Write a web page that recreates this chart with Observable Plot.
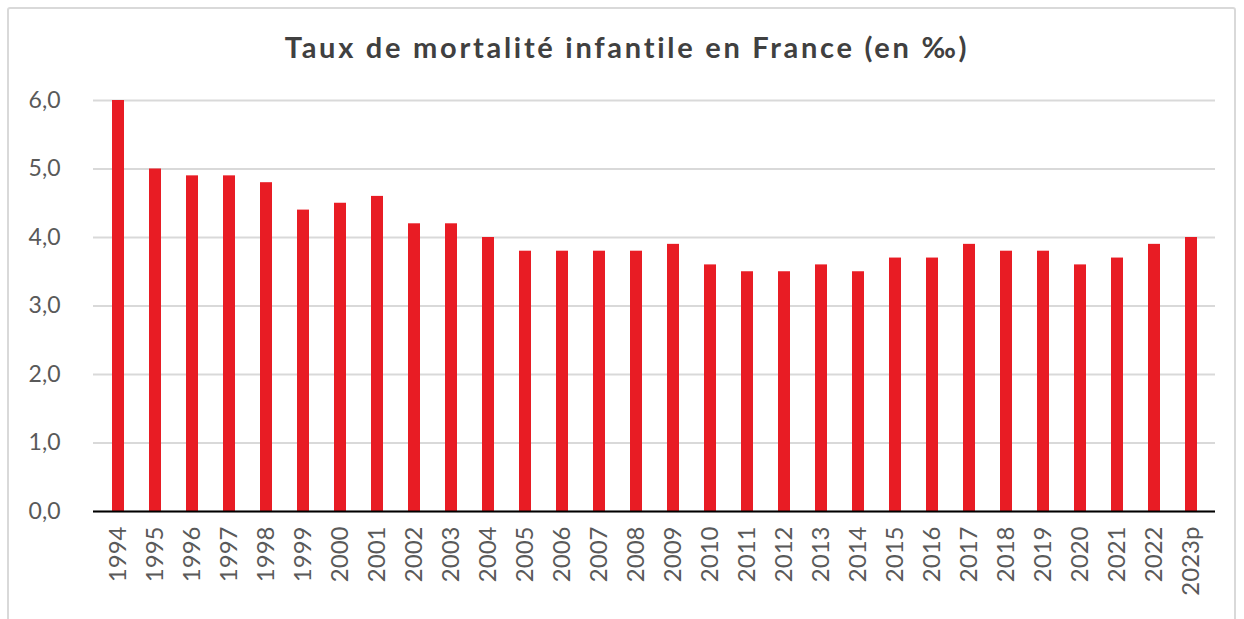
<!DOCTYPE html>
<html>
<head>
<meta charset="utf-8">
<script src="https://cdn.jsdelivr.net/npm/d3@7"></script>
<script src="https://cdn.jsdelivr.net/npm/@observablehq/plot@0.6"></script>
<style>
  html, body { margin: 0; padding: 0; background: #fff; }
  body { width: 1244px; height: 619px; position: relative; overflow: hidden; font-family: "Lato", "Noto Sans", sans-serif; }
  #frame { position: absolute; left: 7px; top: 7px; width: 1229px; height: 640px; border: 2px solid #d9d9d9; border-radius: 3px; box-sizing: border-box; }
  #title { position: absolute; left: 0; width: 1254px; top: 29px; text-align: center; font-size: 29px; font-weight: bold; color: #404040; white-space: nowrap; }
  #chart { position: absolute; left: 0; top: 70px; }
</style>
</head>
<body>
<div id="frame"></div>
<div id="title"><span id="titletext">Taux de mortalité infantile en France (en ‰)</span></div>
<div id="chart"></div>
<script>
const years = ["1994","1995","1996","1997","1998","1999","2000","2001","2002","2003","2004","2005","2006","2007","2008","2009","2010","2011","2012","2013","2014","2015","2016","2017","2018","2019","2020","2021","2022","2023p"];
const rates = [6.0,5.0,4.9,4.9,4.8,4.4,4.5,4.6,4.2,4.2,4.0,3.8,3.8,3.8,3.8,3.9,3.6,3.5,3.5,3.6,3.5,3.7,3.7,3.9,3.8,3.8,3.6,3.7,3.9,4.0];
const yTicks = [0,1,2,3,4,5,6];

const data = years.map((y, i) => ({year: y, rate: rates[i]}));
const fmt = v => d3.format(".1f")(v).replace(".", ",");

// widen title to match the reference's wide geometric face
const tt = document.getElementById("titletext");
const w0 = tt.getBoundingClientRect().width;
const n = tt.textContent.length;
tt.style.letterSpacing = Math.max(0, (685 - w0) / n) + "px";

const chart = Plot.plot({
  width: 1244,
  height: 549,
  marginLeft: 93,
  marginRight: 29,
  marginTop: 30,
  marginBottom: 108,
  style: { fontFamily: "Lato, 'Noto Sans', sans-serif", fontSize: "22px", color: "#595959", background: "transparent" },
  x: { domain: years, paddingInner: 0.68, paddingOuter: 0.34, label: null },
  y: { domain: [0, 6], label: null },
  marks: [
    Plot.gridY(yTicks, { stroke: "#d9d9d9", strokeOpacity: 1, strokeWidth: 2 }),
    Plot.barY(data, { x: "year", y: "rate", fill: "#e81c24" }),
    Plot.ruleY([0], { stroke: "#000", strokeWidth: 2 }),
    Plot.axisY(yTicks, { tickFormat: fmt, tickSize: 0, tickPadding: 33, fontSize: 23, fill: "#595959" }),
    Plot.axisX({ tickRotate: -90, tickSize: 0, tickPadding: 15, fontSize: 24, fill: "#595959" })
  ]
});
document.getElementById("chart").appendChild(chart);
</script>
</body>
</html>
